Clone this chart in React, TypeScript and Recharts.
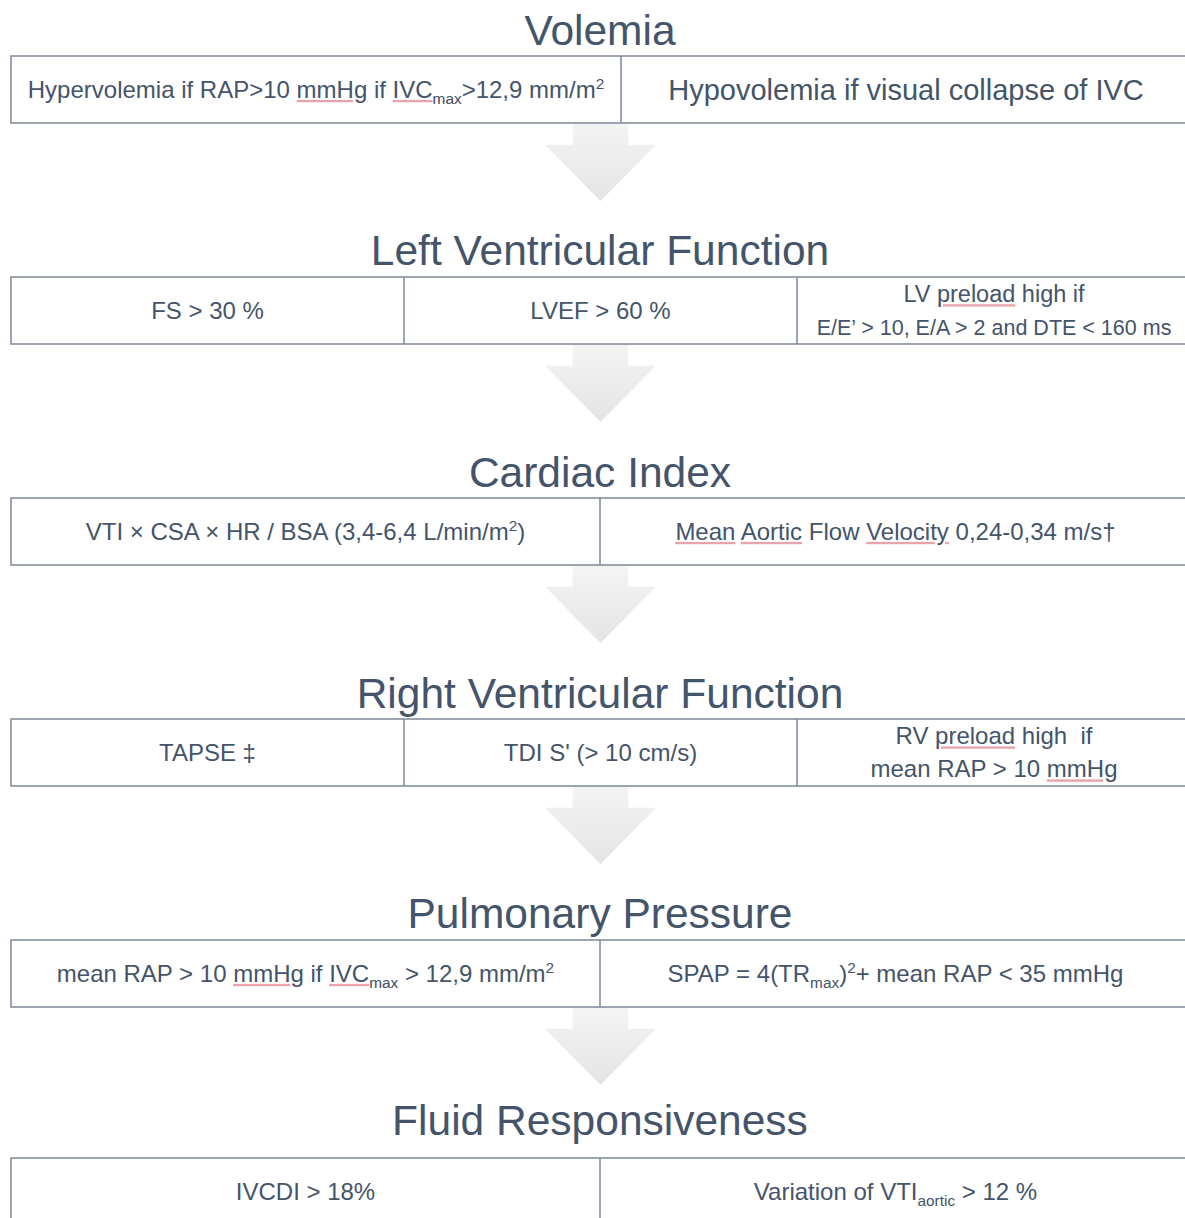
import React, { useId } from "react";
import {
  ComposedChart,
  ReferenceArea,
  ReferenceLine,
  Scatter,
  XAxis,
  YAxis
} from "recharts";

// section headings, top to bottom
const sectionTitles = [
  "Volemia",
  "Left Ventricular Function",
  "Cardiac Index",
  "Right Ventricular Function",
  "Pulmonary Pressure",
  "Fluid Responsiveness"
];

// cell texts per section. _{..} = subscript, ^{..} = superscript,
// ~..~ = word flagged by spell check, \n = line break
const volemiaCells = [
  "Hypervolemia if RAP>10 ~mmHg~ if ~IVC_{max}~>12,9 mm/m^{2}",
  "Hypovolemia if visual collapse of IVC"
];
const lvCells = [
  "FS > 30 %",
  "LVEF > 60 %",
  "LV ~preload~ high if\nE/E’ > 10, E/A > 2 and DTE < 160 ms"
];
const cardiacCells = [
  "VTI × CSA × HR / BSA (3,4-6,4 L/min/m^{2})",
  "~Mean~ ~Aortic~ Flow ~Velocity~ 0,24-0,34 m/s†"
];
const rvCells = [
  "TAPSE ‡",
  "TDI S' (> 10 cm/s)",
  "RV ~preload~ high  if\nmean RAP > 10 ~mmHg~"
];
const pulmonaryCells = [
  "mean RAP > 10 ~mmHg~ if ~IVC_{max}~ > 12,9 mm/m^{2}",
  "SPAP = 4(TR_{max})^{2}+ mean RAP < 35 mmHg"
];
const fluidCells = [
  "IVCDI > 18%",
  "Variation of VTI_{aortic} > 12 %"
];

const sectionCells = [volemiaCells, lvCells, cardiacCells, rvCells, pulmonaryCells, fluidCells];

// layout
const W = 1185;
const H = 1218;
const CENTER_X = 600;
const BOX_LEFT = 11;
const BOX_RIGHT = 1191;
const BOX_H = 67;
const boxTops = [56, 277, 498, 719, 940, 1158];
const titleCenters = [30, 250, 472, 693, 913, 1120];
const dividers = [[621], [404, 797], [600], [404, 797], [600], [600]];
const ARROW_X1 = 545;
const ARROW_X2 = 656;
const ARROW_LEN = 78;

const TEXT = "#44546a";
const BORDER = "#7d8898";
const SPELL = "#e8a3ab";
const FONT = "'Liberation Sans', Arial, sans-serif";
const TITLE_SIZE = 42.5;
const CELL_SIZE = 24;
// per-cell font sizes where they differ from CELL_SIZE, per line
const sizeOverrides: Record<string, number[]> = {
  "0-1": [29],
  "1-2": [23.5, 21.5]
};

type Seg = { t: string; mode: "n" | "sub" | "sup"; spell: boolean };

function parseRich(s: string): Seg[] {
  const out: Seg[] = [];
  let spell = false;
  let buf = "";
  let i = 0;
  const flush = () => {
    if (buf) {
      out.push({ t: buf, mode: "n", spell });
      buf = "";
    }
  };
  while (i < s.length) {
    const c = s[i];
    if (c === "~") {
      flush();
      spell = !spell;
      i++;
      continue;
    }
    if ((c === "_" || c === "^") && s[i + 1] === "{") {
      flush();
      const end = s.indexOf("}", i);
      out.push({ t: s.slice(i + 2, end), mode: c === "_" ? "sub" : "sup", spell });
      i = end + 1;
      continue;
    }
    buf += c;
    i++;
  }
  flush();
  return out;
}

function spans(segs: Seg[], fs: number, underlay: boolean) {
  let shift = 0;
  return segs.map((sg, k) => {
    const target = sg.mode === "sub" ? fs * 0.24 : sg.mode === "sup" ? -fs * 0.36 : 0;
    const dy = target - shift;
    shift = target;
    const deco = underlay && sg.spell;
    return (
      <tspan
        key={k}
        dy={dy || undefined}
        fontSize={sg.mode === "n" ? undefined : fs * 0.64}
        fill={underlay ? (deco ? SPELL : "none") : undefined}
        textDecoration={deco ? "underline" : undefined}
      >
        {sg.t}
      </tspan>
    );
  });
}

function RichLine({ x, cy, text, fs }: { x: number; cy: number; text: string; fs: number }) {
  const clipId = useId().replace(/:/g, "");
  const segs = parseRich(text);
  const base = cy + fs * 0.35;
  const hasSpell = segs.some((s) => s.spell);
  const common = {
    x,
    y: base,
    textAnchor: "middle" as const,
    fontSize: fs,
    fontFamily: FONT,
    style: { whiteSpace: "pre" as const }
  };
  return (
    <g>
      {hasSpell && (
        <>
          <clipPath id={clipId}>
            <rect x={x - 600} y={base + 1.2} width={1200} height={3.6} />
          </clipPath>
          <text {...common} clipPath={`url(#${clipId})`}>
            {spans(segs, fs, true)}
          </text>
        </>
      )}
      <text {...common} fill={TEXT}>
        {spans(segs, fs, false)}
      </text>
    </g>
  );
}

const titleData = sectionTitles.map((label, i) => ({ x: CENTER_X, y: titleCenters[i], label }));

const cellData = sectionCells.flatMap((cells, s) => {
  const edges = [BOX_LEFT, ...dividers[s], BOX_RIGHT];
  return cells.map((text, c) => ({
    x: (edges[c] + edges[c + 1]) / 2,
    y: boxTops[s] + BOX_H / 2,
    text,
    key: `${s}-${c}`
  }));
});

const TitleShape = (props: any) => (
  <text
    x={props.cx}
    y={props.cy + TITLE_SIZE * 0.36}
    textAnchor="middle"
    fontSize={TITLE_SIZE}
    fill={TEXT}
    fontFamily={FONT}
  >
    {props.payload.label}
  </text>
);

const CellShape = (props: any) => {
  const { cx, cy, payload } = props;
  const lines: string[] = payload.text.split("\n");
  const sizes = sizeOverrides[payload.key] || [];
  const offsets = lines.length === 1 ? [0] : [-16.5, 16.5];
  return (
    <g>
      {lines.map((ln, i) => (
        <RichLine key={i} x={cx} cy={cy + offsets[i]} text={ln} fs={sizes[i] || CELL_SIZE} />
      ))}
    </g>
  );
};

const ArrowShape = (props: any) => {
  const { x, y, width, height } = props;
  const mid = x + width / 2;
  const shaft = width * 0.25;
  const headY = y + height * 0.28;
  const pts = [
    [mid - shaft, y],
    [mid + shaft, y],
    [mid + shaft, headY],
    [x + width, headY],
    [mid, y + height],
    [x, headY],
    [mid - shaft, headY]
  ]
    .map((p) => p.join(","))
    .join(" ");
  return <polygon points={pts} fill="url(#arrowFill)" />;
};

export default function App() {
  return (
    <div style={{ position: "absolute", left: 0, top: 0, width: W, height: H, overflow: "hidden", background: "#fff" }}>
      <ComposedChart width={W} height={H} margin={{ top: 0, right: 0, bottom: 0, left: 0 }}>
        <defs>
          <linearGradient id="arrowFill" x1="0" y1="0" x2="0" y2="1">
            <stop offset="0%" stopColor="#f4f4f4" />
            <stop offset="100%" stopColor="#e4e4e4" />
          </linearGradient>
        </defs>
        <XAxis type="number" dataKey="x" domain={[0, W]} allowDataOverflow hide />
        <YAxis type="number" dataKey="y" domain={[0, H]} allowDataOverflow reversed hide />
        {boxTops.slice(0, -1).map((top, i) => (
          <ReferenceArea
            key={`arrow-${i}`}
            x1={ARROW_X1}
            x2={ARROW_X2}
            y1={top + BOX_H}
            y2={top + BOX_H + ARROW_LEN}
            ifOverflow="visible"
            shape={ArrowShape}
          />
        ))}
        {boxTops.map((top, i) => (
          <ReferenceArea
            key={`box-${i}`}
            x1={BOX_LEFT}
            x2={BOX_RIGHT}
            y1={top}
            y2={top + BOX_H}
            ifOverflow="visible"
            fill="none"
            stroke={BORDER}
            strokeWidth={1.5}
            fillOpacity={0}
          />
        ))}
        {dividers.flatMap((xs, i) =>
          xs.map((dx) => (
            <ReferenceLine
              key={`div-${i}-${dx}`}
              segment={[
                { x: dx, y: boxTops[i] },
                { x: dx, y: boxTops[i] + BOX_H }
              ]}
              ifOverflow="visible"
              stroke={BORDER}
              strokeWidth={1.5}
            />
          ))
        )}
        <Scatter data={titleData} shape={TitleShape} isAnimationActive={false} />
        <Scatter data={cellData} shape={CellShape} isAnimationActive={false} />
      </ComposedChart>
    </div>
  );
}
